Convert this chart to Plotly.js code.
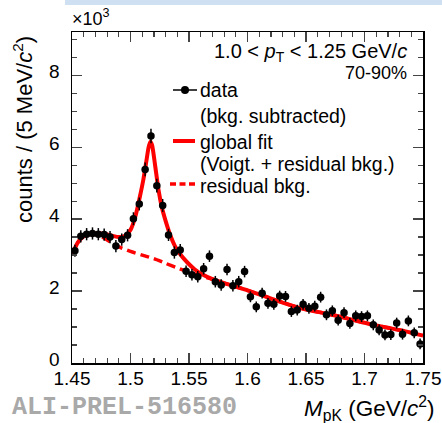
<!DOCTYPE html>
<html>
<head>
<meta charset="utf-8">
<script src="https://cdn.plot.ly/plotly-3.0.1.min.js"></script>
<style>html,body{margin:0;padding:0;background:#fff;}#chart{width:442px;height:423px;}</style>
</head>
<body>
<div id="chart"></div>
<script>
// Bin centres of M_pK (GeV/c^2), 5 MeV bins
var massBins = [1.4525,1.4575,1.4625,1.4675,1.4725,1.4775,1.4825,1.4875,1.4925,1.4975,
  1.5025,1.5075,1.5125,1.5175,1.5225,1.5275,1.5325,1.5375,1.5425,1.5475,
  1.5525,1.5575,1.5625,1.5675,1.5725,1.5775,1.5825,1.5875,1.5925,1.5975,
  1.6025,1.6075,1.6125,1.6175,1.6225,1.6275,1.6325,1.6375,1.6425,1.6475,
  1.6525,1.6575,1.6625,1.6675,1.6725,1.6775,1.6825,1.6875,1.6925,1.6975,
  1.7025,1.7075,1.7125,1.7175,1.7225,1.7275,1.7325,1.7375,1.7425,1.7475];
// counts (x10^3), bkg. subtracted
var counts = [3.12,3.52,3.58,3.60,3.58,3.57,3.50,3.25,3.43,3.55,
  4.01,4.42,5.38,6.31,4.93,4.38,3.56,3.07,3.14,2.55,
  2.45,2.40,2.62,2.97,2.26,2.17,2.60,2.15,2.26,2.54,
  1.84,1.56,1.94,1.66,1.63,1.86,1.85,1.43,1.47,1.63,
  1.52,1.58,1.83,1.34,1.45,1.19,1.40,1.10,1.31,1.29,
  1.31,1.06,0.92,0.78,0.79,1.11,0.80,1.17,0.84,0.53];
var countErr = [0.17,0.17,0.17,0.17,0.17,0.17,0.17,0.17,0.17,0.17,
  0.18,0.18,0.19,0.20,0.19,0.18,0.17,0.17,0.17,0.16,
  0.16,0.16,0.16,0.16,0.16,0.16,0.16,0.16,0.16,0.16,
  0.15,0.15,0.15,0.15,0.15,0.15,0.15,0.15,0.15,0.15,
  0.15,0.15,0.15,0.15,0.15,0.15,0.15,0.15,0.15,0.15,
  0.15,0.15,0.15,0.15,0.15,0.15,0.15,0.15,0.15,0.15];
// global fit (Voigt + residual bkg.)
var fitX = [1.45,1.455,1.46,1.465,1.47,1.475,1.48,1.485,1.49,1.495,1.5,1.504,1.508,1.511,1.5135,1.5155,1.517,1.5185,1.521,1.524,1.527,1.53,1.534,1.538,1.543,1.549,1.555,1.562,1.57,1.58,1.59,1.6,1.615,1.63,1.645,1.66,1.675,1.69,1.705,1.72,1.735,1.75];
var fitY = [3.0,3.35,3.52,3.58,3.6,3.6,3.57,3.53,3.5,3.53,3.7,4.05,4.62,5.1,5.6,6.0,6.15,6.05,5.5,4.8,4.3,3.95,3.55,3.25,3.0,2.78,2.6,2.45,2.33,2.22,2.12,2.02,1.85,1.68,1.53,1.42,1.32,1.2,1.08,0.98,0.88,0.76];
// residual background
var bkgX = [1.45,1.455,1.46,1.465,1.47,1.475,1.48,1.485,1.49,1.5,1.51,1.52,1.53,1.54,1.55,1.56,1.57,1.58,1.59,1.6,1.615,1.63,1.645,1.66,1.675,1.69,1.705,1.72,1.735,1.75];
var bkgY = [3.0,3.35,3.52,3.58,3.57,3.52,3.42,3.32,3.23,3.1,3.0,2.9,2.77,2.64,2.52,2.42,2.33,2.22,2.12,2.02,1.85,1.68,1.53,1.42,1.32,1.2,1.08,0.98,0.88,0.76];
var xTicks = [1.45,1.5,1.55,1.6,1.65,1.7,1.75];
var xTickText = ['1.45','1.5','1.55','1.6','1.65','1.7','1.75'];
var yTicks = [0,2,4,6,8];
var yTickText = ['0','2','4','6','8'];

var L = 72, R = 423, T = 32, B = 363;
function px(p){ return (p - L) / (R - L); }
function py(p){ return (B - p) / (B - T); }

var FONT = 'Liberation Sans, Arial, Helvetica, sans-serif';
var RED = '#ff0000';

var traces = [
  {x: bkgX, y: bkgY, mode: 'lines', line: {color: RED, width: 3.5, dash: '9px,5px', shape: 'spline', smoothing: 0.6}, hoverinfo: 'skip'},
  {x: fitX, y: fitY, mode: 'lines', line: {color: RED, width: 4, shape: 'spline', smoothing: 0.6}, hoverinfo: 'skip'},
  {x: massBins, y: counts, mode: 'markers', marker: {color: '#000', size: 7.5},
   error_y: {type: 'data', array: countErr, visible: true, color: '#000', thickness: 1.5, width: 0}}
];

function ann(text, x, y, xa, ya, size, extra){
  var a = {text: text, x: x, y: y, xref: 'paper', yref: 'paper', xanchor: xa, yanchor: ya,
    showarrow: false, font: {family: FONT, size: size, color: '#000'}};
  if (extra) for (var k in extra) a[k] = extra[k];
  return a;
}

var layout = {
  width: 442, height: 423,
  margin: {l: L, r: 442 - R, t: T, b: 423 - B},
  paper_bgcolor: '#fff', plot_bgcolor: '#fff',
  showlegend: false,
  xaxis: {range: [1.45, 1.75], tickvals: xTicks, ticktext: xTickText, ticks: 'inside', ticklen: 10, tickwidth: 1.2,
    showline: true, linecolor: '#000', linewidth: 1.5, mirror: 'ticks', showgrid: false, zeroline: false,
    tickfont: {family: FONT, size: 19, color: '#000'}, ticklabelstandoff: -2,
    minor: {dtick: 0.01, ticks: 'inside', ticklen: 5, tickwidth: 1.2, showgrid: false}},
  yaxis: {range: [0, 9.2], tickvals: yTicks, ticktext: yTickText, ticks: 'inside', ticklen: 10, tickwidth: 1.2,
    showline: true, linecolor: '#000', linewidth: 1.5, mirror: 'ticks', showgrid: false, zeroline: false,
    tickfont: {family: FONT, size: 19, color: '#000'}, ticklabelstandoff: 7, ticklabelshift: -4,
    minor: {dtick: 0.5, ticks: 'inside', ticklen: 5, tickwidth: 1.2, showgrid: false}},
  shapes: [
    {type: 'rect', xref: 'paper', yref: 'paper', x0: px(65), x1: px(442), y0: py(5), y1: py(0), fillcolor: '#cfe0f2', line: {width: 0}, layer: 'below'},
    {type: 'line', xref: 'paper', yref: 'paper', x0: px(173), x1: px(197), y0: py(90), y1: py(90), line: {color: '#000', width: 1.5}},
    {type: 'circle', xref: 'paper', yref: 'paper', xsizemode: 'pixel', ysizemode: 'pixel', xanchor: px(185), yanchor: py(90), x0: -4, x1: 4, y0: -4, y1: 4, fillcolor: '#000', line: {color: '#000', width: 0}},
    {type: 'line', xref: 'paper', yref: 'paper', x0: px(173), x1: px(195), y0: py(141), y1: py(141), line: {color: RED, width: 4}},
    {type: 'line', xref: 'paper', yref: 'paper', x0: px(170), x1: px(195), y0: py(184), y1: py(184), line: {color: RED, width: 3.5, dash: '6px,3.5px'}}
  ],
  annotations: [
    ann('×10<sup>3</sup>', px(70), py(31), 'left', 'bottom', 18),
    ann('1.0 < <i>p</i><sub>T</sub> < 1.25 GeV/<i>c</i>', px(409), py(52), 'right', 'middle', 20),
    ann('70-90%', px(409), py(73), 'right', 'middle', 18),
    ann('data', px(198), py(90), 'left', 'middle', 19.5),
    ann('(bkg. subtracted)', px(198), py(116), 'left', 'middle', 19.5),
    ann('global fit', px(198), py(142), 'left', 'middle', 19.5),
    ann('(Voigt. + residual bkg.)', px(198), py(164), 'left', 'middle', 19.5),
    ann('residual bkg.', px(198), py(186), 'left', 'middle', 19.5),
    ann('counts / (5 MeV/<i>c</i><sup>2</sup>)', px(23), py(130), 'center', 'middle', 22, {textangle: -90}),
    ann('<i>M</i><sub>pK</sub> (GeV/<i>c</i><sup>2</sup>)', px(437), py(408), 'right', 'middle', 22.5),
    ann('<b>ALI-PREL-516580</b>', px(10), py(407), 'left', 'middle', 25, {font: {family: 'Liberation Mono, Courier New, monospace', size: 25, color: '#a9a9a9'}})
  ]
};

Plotly.newPlot('chart', traces, layout, {staticPlot: true, displayModeBar: false});
</script>
</body>
</html>
